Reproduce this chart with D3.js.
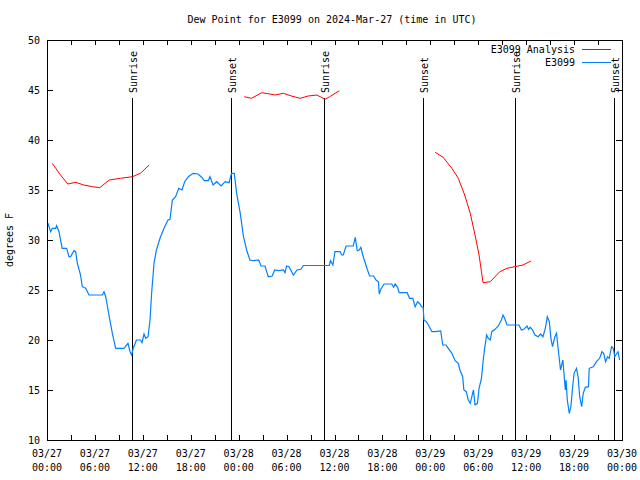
<!DOCTYPE html>
<html><head><meta charset="utf-8">
<script src="https://cdn.jsdelivr.net/npm/d3@7"></script>
<style>
body{margin:0;background:#fff;}
svg text{font-family:"DejaVu Sans Mono","Liberation Mono",monospace;font-size:10px;fill:#000;}
</style></head>
<body><svg id="c" width="640" height="480"></svg>
<script>
// hours since 03/27 00:00 UTC
const tickLabelHours = [0,6,12,18,24,30,36,42,48,54,60,66,72];
const tickDates = ["03/27","03/27","03/27","03/27","03/28","03/28","03/28","03/28","03/29","03/29","03/29","03/29","03/30"];
const tickTimes = ["00:00","06:00","12:00","18:00","00:00","06:00","12:00","18:00","00:00","06:00","12:00","18:00","00:00"];
const yTicks = [10,15,20,25,30,35,40,45,50];

const eventHours = [10.64, 23.0, 34.67, 47.06, 58.6, 70.96];
const eventLabels = ["Sunrise","Sunset","Sunrise","Sunset","Sunrise","Sunset"];

const analysis1 = [[0.66,37.67],[1.6,36.6],[2.6,35.6],[3.6,35.77],[4.6,35.5],[5.7,35.33],[6.6,35.23],[7.8,36.0],[9.2,36.17],[10.7,36.33],[11.7,36.67],[12.8,37.5]];
const analysis2 = [[24.7,44.33],[25.6,44.17],[26.9,44.73],[27.9,44.6],[28.55,44.5],[29.6,44.67],[30.6,44.4],[31.7,44.17],[32.7,44.4],[33.8,44.5],[34.8,44.07],[35.4,44.33],[36.6,44.93]];
const analysis3 = [[48.6,38.77],[49.6,38.27],[50.7,37.17],[51.5,36.17],[52.3,34.5],[53.0,32.67],[53.6,30.5],[54.1,28.5],[54.6,25.73],[55.5,25.83],[56.7,26.83],[57.6,27.17],[58.6,27.33],[59.6,27.5],[60.6,27.9]];

const obsHours = [0.12,0.46,0.66,1.09,1.2,1.5,1.9,2.46,2.75,2.96,3.38,3.59,3.8,4.2,4.42,4.84,5.26,6.93,7.14,7.35,7.76,8.18,8.6,9.64,10.14,10.4,10.6,10.8,11.2,11.7,11.9,12.15,12.36,12.65,12.9,13.1,13.4,13.7,14.15,14.65,15.15,15.4,15.7,16.1,16.5,16.9,17.24,17.7,18.3,18.9,19.3,19.7,20.2,20.4,20.8,21.25,21.8,22.3,22.8,23.1,23.45,23.75,24.2,24.6,25.0,25.4,25.8,26.5,26.8,27.3,27.7,28.2,28.5,29.0,29.6,29.8,30.0,30.3,30.85,31.3,31.8,32.1,35.35,35.5,35.8,36.06,36.7,36.9,37.1,37.45,38.35,38.6,38.85,39.1,39.3,39.5,39.8,40.1,40.4,40.9,41.2,41.5,41.6,41.8,42.2,43.16,43.4,43.6,43.9,44.1,45.1,45.4,45.8,46.1,46.4,46.7,46.9,47.1,47.2,47.5,47.75,48.2,48.6,49.3,49.55,49.96,50.25,50.7,51.1,51.5,51.7,52.05,52.2,52.5,52.75,53.0,53.2,53.4,53.6,53.9,54.1,54.4,54.6,54.8,55.05,55.25,55.5,55.7,56.1,56.5,56.9,57.1,57.3,57.6,59.1,59.4,59.7,60.1,60.3,60.5,60.8,61.1,61.5,61.8,62.1,62.4,62.65,62.9,63.1,63.3,63.6,63.8,64.0,64.3,64.6,64.9,65.0,65.15,65.4,65.6,65.8,66.0,66.3,66.5,66.7,66.95,67.15,67.4,67.8,67.9,68.4,68.8,69.2,69.5,69.7,69.95,70.2,70.4,70.7,70.9,71.1,71.3,71.5,71.7];
const obsValues = [31.67,30.83,31.17,31.17,31.43,30.83,29.17,29.17,28.33,28.33,28.93,28.83,27.67,26.5,25.33,25.17,24.5,24.5,24.83,24.33,22.5,20.67,19.17,19.17,19.67,18.83,18.5,19.17,20.0,20.0,19.73,20.6,20.17,20.33,22.0,24.67,27.67,29.0,30.17,31.17,32.0,32.07,34.0,34.33,35.17,35.0,35.83,36.33,36.67,36.6,36.33,35.93,35.93,36.33,35.5,35.83,35.4,35.83,35.73,36.67,36.67,34.67,32.67,30.33,29.0,28.0,27.93,28.0,27.4,27.4,26.33,26.4,27.0,26.93,27.0,26.73,27.4,27.33,26.5,27.0,27.07,27.45,27.45,27.93,27.5,28.83,28.83,28.5,28.5,29.4,29.4,30.27,28.93,29.0,29.27,28.6,27.83,27.07,26.4,26.4,26.0,25.83,24.6,25.07,25.6,25.6,25.27,25.6,25.27,24.73,24.73,24.17,24.17,23.33,23.83,23.6,23.33,23.27,22.0,21.83,21.5,20.83,20.83,20.9,19.5,19.5,19.17,18.67,17.93,17.67,17.0,16.33,15.0,14.83,14.0,13.67,14.33,15.0,13.5,13.67,15.17,16.17,17.83,19.17,20.5,20.17,20.0,20.83,21.07,21.4,22.0,22.5,22.17,21.5,21.5,21.0,21.07,21.4,21.07,21.27,21.0,20.5,20.33,20.6,20.33,21.17,22.33,21.83,20.17,19.33,20.33,20.67,19.17,17.0,18.0,15.0,16.0,14.0,12.67,13.33,15.17,16.67,17.17,16.33,14.33,13.33,14.67,15.27,15.33,17.17,17.33,17.83,18.17,18.83,18.67,17.83,18.33,18.17,19.33,19.17,18.33,18.6,18.83,18.0];

const L = 47, R = 622, T = 40, B = 440;
const svg = d3.select("#c");
const x = d3.scaleLinear().domain([0,72]).range([L,R]);
const y = d3.scaleLinear().domain([10,50]).range([B,T]);

// title
svg.append("text").attr("x",332).attr("y",23).attr("text-anchor","middle")
  .text("Dew Point for E3099 on 2024-Mar-27 (time in UTC)");
// y label
svg.append("text").attr("transform","translate(13,240) rotate(-90)").attr("text-anchor","middle")
  .text("degrees F");

const tickVals = d3.range(0,73,3);
const g = svg.append("g").attr("shape-rendering","crispEdges");
g.append("g").attr("transform",`translate(0,${B})`)
  .call(d3.axisBottom(x).tickValues(tickVals).tickSize(-5).tickFormat("")).call(a=>a.select(".domain").remove());
g.append("g").attr("transform",`translate(0,${T})`)
  .call(d3.axisTop(x).tickValues(tickVals).tickSize(-5).tickFormat("")).call(a=>a.select(".domain").remove());
g.append("g").attr("transform",`translate(${L},0)`)
  .call(d3.axisLeft(y).tickValues(yTicks).tickSize(-6).tickFormat("")).call(a=>a.select(".domain").remove());
g.append("g").attr("transform",`translate(${R},0)`)
  .call(d3.axisRight(y).tickValues(yTicks).tickSize(-6).tickFormat("")).call(a=>a.select(".domain").remove());
g.selectAll(".tick line").attr("stroke","#000");

// y tick labels
svg.append("g").selectAll("text").data(yTicks).join("text")
  .attr("x",40).attr("y",d=>y(d)).attr("dy","0.35em").attr("text-anchor","end").text(d=>d);
// x tick labels
const xl = svg.append("g").selectAll("text").data(tickLabelHours).join("text")
  .attr("text-anchor","middle");
xl.append("tspan").attr("x",d=>x(d)).attr("y",457).text((d,i)=>tickDates[i]);
xl.append("tspan").attr("x",d=>x(d)).attr("y",471).text((d,i)=>tickTimes[i]);

// sunrise/sunset lines
const ev = svg.append("g");
ev.selectAll("line").data(eventHours).join("line")
  .attr("x1",d=>Math.round(x(d))+0.5).attr("x2",d=>Math.round(x(d))+0.5)
  .attr("y1",B).attr("y2",98).attr("stroke","#000").attr("stroke-width",1);
ev.selectAll("text").data(eventHours).join("text")
  .attr("transform",d=>`translate(${Math.round(x(d))+4.5},93) rotate(-90)`)
  .attr("text-anchor","start").text((d,i)=>eventLabels[i]);

// lines
const line = d3.line().x(d=>x(d[0])).y(d=>y(d[1]));
[analysis1,analysis2,analysis3].forEach(seg=>{
  svg.append("path").attr("d",line(seg)).attr("fill","none").attr("stroke","#ff0000").attr("stroke-width",1);
});
const obs = obsHours.map((h,i)=>[h,obsValues[i]]);
svg.append("path").attr("d",line(obs)).attr("fill","none").attr("stroke","#0080ff").attr("stroke-width",1.2);

// frame
svg.append("rect").attr("x",L+0.5).attr("y",T+0.5).attr("width",R-L).attr("height",B-T)
  .attr("fill","none").attr("stroke","#000").attr("shape-rendering","crispEdges");

// legend
const leg = svg.append("g");
const legItems = [["E3099 Analysis","#ff0000",49],["E3099","#0080ff",62]];
legItems.forEach(([t,c,yy])=>{
  leg.append("text").attr("x",575).attr("y",yy).attr("dy","0.35em").attr("text-anchor","end").text(t);
  leg.append("line").attr("x1",582).attr("x2",611).attr("y1",yy+0.5).attr("y2",yy+0.5).attr("stroke",c).attr("stroke-width",1);
});
</script></body></html>
